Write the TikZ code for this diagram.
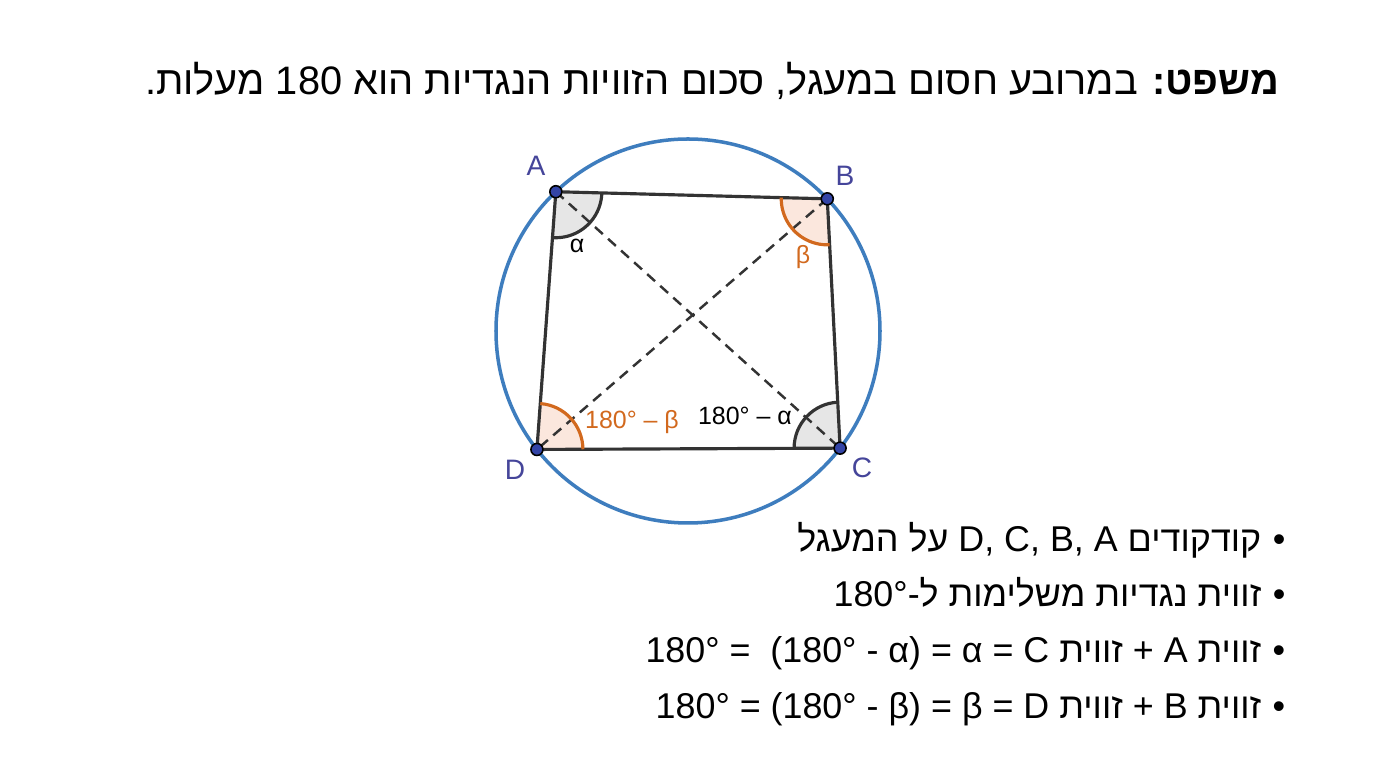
\documentclass[tikz,border=0pt]{standalone}
\usepackage{fontspec}
\setmainfont{Liberation Sans}
\newfontfamily\hebfont[Script=Hebrew]{Liberation Sans}
\TeXXeTstate=1
\usetikzlibrary{calc,angles}

\definecolor{circleblue}{HTML}{3E7DBE}
\definecolor{angorange}{HTML}{D2691E}
\definecolor{angpeach}{HTML}{FBE7DD}
\definecolor{anggrey}{HTML}{E6E6E6}
\definecolor{ptblue}{HTML}{3344A6}
\definecolor{namblue}{HTML}{45459A}
\definecolor{edgegrey}{HTML}{333333}

% Latin run inside a right-to-left line
\newcommand\ltr[1]{\beginL{\rmfamily #1}\endL}

\tikzset{
  edge/.style={edgegrey, line width=0.9pt, line join=round},
  diag/.style={edgegrey, line width=0.7pt, dash pattern=on 3pt off 2pt},
  vname/.style={namblue, inner sep=0pt, font=\fontsize{8}{9}\selectfont},
  anglbl/.style={inner sep=0pt, font=\fontsize{7.1}{8}\selectfont},
  hebline/.style={inner sep=0pt, anchor=base east, font=\hebfont\fontsize{10.2}{12}\selectfont},
}

\begin{document}
\begin{tikzpicture}
    \useasboundingbox[fill=white] (0,0) rectangle (13.76,7.68);
    \def\rad{1.92}
    \def\vertices{
      \coordinate (O) at (6.88,4.37);
      \coordinate (A) at ($ (O)+(133.5:\rad) $);
      \coordinate (B) at ($ (O)+(43.5:\rad) $);
      \coordinate (C) at ($ (O)+(-37.6:\rad) $);
      \coordinate (D) at ($ (O)+(-141.9:\rad) $);
    }
    \def\showAngles{
      \pic [fill=anggrey, angle radius=0.46cm] {angle = D--A--B};
      \pic [fill=angpeach, angle radius=0.46cm] {angle = A--B--C};
      \pic [fill=anggrey, angle radius=0.46cm] {angle = B--C--D};
      \pic [fill=angpeach, angle radius=0.46cm] {angle = C--D--A};
    }
    \def\showArcs{
      \pic [draw=edgegrey, line width=0.9pt, angle radius=0.46cm] {angle = D--A--B};
      \pic [draw=angorange, line width=0.9pt, angle radius=0.46cm] {angle = A--B--C};
      \pic [draw=edgegrey, line width=0.9pt, angle radius=0.46cm] {angle = B--C--D};
      \pic [draw=angorange, line width=0.9pt, angle radius=0.46cm] {angle = C--D--A};
    }
    \def\showLines{
      % Draw circle
      \draw [circleblue, line width=1pt] (O) circle (\rad);
      % Draw borders
      \draw [edge] (A) -- (B) -- (C) -- (D) -- cycle;
      % Draw diagonals
      \draw [diag] (A) -- (C);
      \draw [diag] (B) -- (D);
    }
    \def\showPoints{
      \foreach \p in {A,B,C,D}
      \filldraw [fill=ptblue, draw=black, line width=0.45pt] (\p) circle (0.06);
    }
    \def\showNames{
      \node [vname] (nA) at (5.36,6.02) {A};
      \node [vname] (nB) at (8.45,5.92) {B};
      \node [vname] (nC) at (8.62,3.00) {C};
      \node [vname] (nD) at (5.15,2.98) {D};
      \node [anglbl] (la) at (5.77,5.22) {α};
      \node [anglbl, angorange] (lb) at (8.03,5.11) {β};
      \node [anglbl, angorange] (lDb) at (6.32,3.46) {180° – β};
      \node [anglbl] (lCa) at (7.45,3.52) {180° – α};
    }
    \vertices
    \showAngles
    \showLines
    \showArcs
    \showPoints
    \showNames
    % Title and bullet lines
    \node [hebline, font=\hebfont\fontsize{11.3}{13}\selectfont] (title) at (12.80,6.73)
      {\beginR\textbf{משפט:} במרובע חסום במעגל, סכום הזוויות הנגדיות הוא \ltr{180} מעלות.\endR};
    \node [hebline] (l1) at (12.86,2.16)
      {\beginR•\hspace{0.32em}קודקודים \ltr{D, C, B, A} על המעגל\endR};
    \node [hebline] (l2) at (12.86,1.61)
      {\beginR•\hspace{0.32em}זווית נגדיות משלימות ל-\ltr{180°}\endR};
    \node [hebline] (l3) at (12.86,1.05)
      {\beginR•\hspace{0.32em}זווית \ltr{A} + זווית \ltr{C} = \ltr{α} = \ltr{(180° - α)}~ = \ltr{180°}\endR};
    \node [hebline] (l4) at (12.86,0.49)
      {\beginR•\hspace{0.32em}זווית \ltr{B} + זווית \ltr{D} = \ltr{β} = \ltr{(180° - β)} = \ltr{180°}\endR};
\end{tikzpicture}
\end{document}
